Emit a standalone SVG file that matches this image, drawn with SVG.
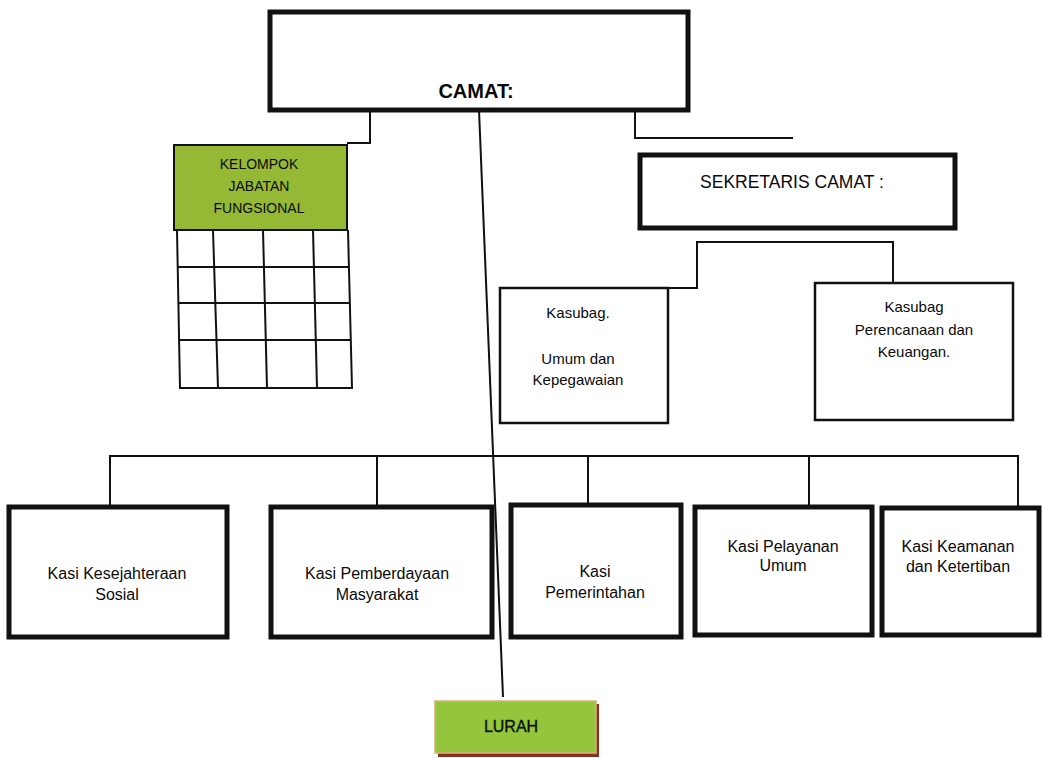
<svg xmlns="http://www.w3.org/2000/svg" width="1042" height="758" viewBox="0 0 1042 758">
<style>
.thick{fill:#fff;stroke:#111;stroke-width:5}
.thin{fill:#fff;stroke:#111;stroke-width:2.5}
.conn{fill:none;stroke:#111;stroke-width:2}
.t{font-family:"Liberation Sans",Arial,sans-serif;fill:#0a0a0a;text-anchor:middle}
.k{font-size:16px}
.s{font-size:15px}
.g{font-size:14px}
</style>
<rect width="1042" height="758" fill="#fff"/>
<g id="connectors">
<path class="conn" d="M370,110 V143 H347"/>
<path class="conn" d="M635,110 V138 H793"/>
<path class="conn" d="M479,110 L503,697"/>
<path class="conn" d="M668,288 H697 V242 H893 V283"/>
<path class="conn" d="M110,507 V456 H1018 V507"/>
<path class="conn" d="M377,456 V507"/>
<path class="conn" d="M588,456 V505"/>
<path class="conn" d="M809,456 V507"/>
</g>
<g id="camat">
<rect class="thick" x="270" y="12" width="418" height="98"/>
<text class="t" x="476" y="98" font-size="20" font-weight="bold">CAMAT:</text>
</g>
<g id="kelompok">
<rect x="174" y="145" width="173" height="85" fill="#95b935" stroke="#111" stroke-width="2"/>
<text class="t g" x="259" y="169">KELOMPOK</text>
<text class="t g" x="259" y="191">JABATAN</text>
<text class="t g" x="259" y="213">FUNGSIONAL</text>
<g class="conn" stroke-width="2.5">
<path d="M177,230 L180,388 H352 L348,230"/>
<path d="M213,230 L218,388"/>
<path d="M263,230 L267,388"/>
<path d="M313,230 L317,388"/>
<path d="M178,267 H349"/>
<path d="M179,303 H350"/>
<path d="M179,340 H351"/>
</g>
</g>
<g id="sekretaris">
<rect class="thick" x="640" y="155" width="315" height="73"/>
<text class="t" x="792" y="188" font-size="17.5">SEKRETARIS CAMAT :</text>
</g>
<g id="kasubag-umum">
<rect class="thin" x="500" y="288" width="168" height="135"/>
<text class="t s" x="578" y="318">Kasubag.</text>
<text class="t s" x="578" y="364">Umum dan</text>
<text class="t s" x="578" y="385">Kepegawaian</text>
</g>
<g id="kasubag-perencanaan">
<rect class="thin" x="815" y="283" width="198" height="137"/>
<text class="t s" x="914" y="312">Kasubag</text>
<text class="t s" x="914" y="335">Perencanaan dan</text>
<text class="t s" x="914" y="357">Keuangan.</text>
</g>
<g id="kasi-kesejahteraan">
<rect class="thick" x="9" y="507" width="218" height="130"/>
<text class="t k" x="117" y="579">Kasi Kesejahteraan</text>
<text class="t k" x="117" y="600">Sosial</text>
</g>
<g id="kasi-pemberdayaan">
<rect class="thick" x="271" y="507" width="221" height="130"/>
<text class="t k" x="377" y="579">Kasi Pemberdayaan</text>
<text class="t k" x="377" y="600">Masyarakat</text>
</g>
<g id="kasi-pemerintahan">
<rect class="thick" x="511" y="505" width="170" height="132"/>
<text class="t k" x="595" y="577">Kasi</text>
<text class="t k" x="595" y="598">Pemerintahan</text>
</g>
<g id="kasi-pelayanan">
<rect class="thick" x="695" y="507" width="177" height="128"/>
<text class="t k" x="783" y="552">Kasi Pelayanan</text>
<text class="t k" x="783" y="571">Umum</text>
</g>
<g id="kasi-keamanan">
<rect class="thick" x="882" y="508" width="157" height="127"/>
<text class="t k" x="958" y="552">Kasi Keamanan</text>
<text class="t k" x="958" y="572">dan Ketertiban</text>
</g>
<g id="lurah">
<rect x="438" y="704" width="161" height="53" fill="#8a2f22"/>
<rect x="435" y="701" width="161" height="52" fill="#93c63c" stroke="#d9b27a" stroke-width="1.5"/>
<text class="t" x="511" y="732" font-size="16" fill="#14240c" stroke="#14240c" stroke-width="0.4">LURAH</text>
</g>
</svg>
